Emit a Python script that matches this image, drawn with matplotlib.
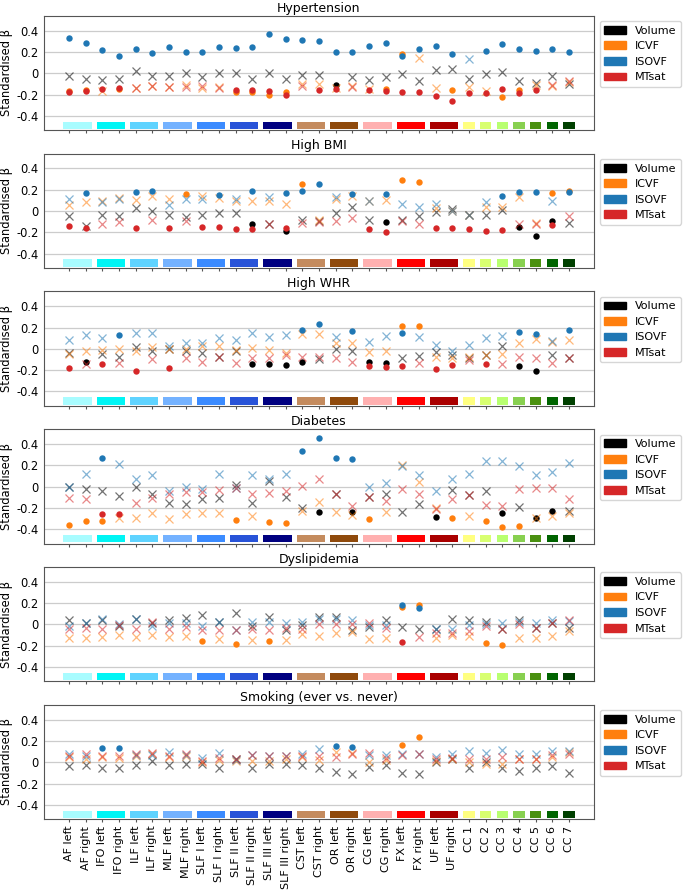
import numpy as np
import matplotlib
matplotlib.use('Agg')
import matplotlib.pyplot as plt
from matplotlib.patches import Patch

tracts = ['AF left', 'AF right', 'IFO left', 'IFO right', 'ILF left', 'ILF right',
          'MLF left', 'MLF right', 'SLF I left', 'SLF I right', 'SLF II left',
          'SLF II right', 'SLF III left', 'SLF III right', 'CST left', 'CST right',
          'OR left', 'OR right', 'CG left', 'CG right', 'FX left', 'FX right',
          'UF left', 'UF right', 'CC 1', 'CC 2', 'CC 3', 'CC 4', 'CC 5', 'CC 6', 'CC 7']

# colour strip under each tract (bilateral tracts share one strip)
group_first = [0, 2, 4, 6, 8, 10, 12, 14, 16, 18, 20, 22, 24, 25, 26, 27, 28, 29, 30]
group_last = [1, 3, 5, 7, 9, 11, 13, 15, 17, 19, 21, 23, 24, 25, 26, 27, 28, 29, 30]
group_colors = ['#a8fcff', '#00f5f5', '#5fd3ff', '#74b2ff', '#3b8bff', '#2853d8', '#000080',
                '#c48b5e', '#8f4a0c', '#ffb0b0', '#ff0000', '#aa0000',
                '#ffff80', '#d8ff70', '#b8ff70', '#88d050', '#4a9010', '#006400', '#004000']

metrics = ['Volume', 'ICVF', 'ISOVF', 'MTsat']
metric_colors = ['black', '#ff7f0e', '#1f77b4', '#d62728']

titles = ['Hypertension', 'High BMI', 'High WHR', 'Diabetes', 'Dyslipidemia',
          'Smoking (ever vs. never)']

# ---- Hypertension
hyp_volume = [-0.03, -0.05, -0.06, -0.05, 0.02, -0.03, -0.03, 0.0, -0.04, 0.0, 0.0, -0.05, 0.0, -0.05, -0.02, -0.02,
              -0.11, -0.04, -0.06, -0.04, -0.01, -0.07, 0.03, 0.04, -0.05, -0.01, 0.01, -0.07, -0.09, -0.03, -0.10]
hyp_icvf = [-0.17, -0.16, -0.17, -0.15, -0.14, -0.12, -0.13, -0.11, -0.14, -0.13, -0.18, -0.18, -0.20, -0.18, -0.10, -0.10,
            -0.14, -0.12, -0.15, -0.15, 0.18, 0.14, -0.14, -0.16, -0.13, -0.17, -0.22, -0.16, -0.11, -0.12, -0.08]
hyp_isovf = [0.33, 0.28, 0.22, 0.16, 0.23, 0.19, 0.25, 0.20, 0.20, 0.25, 0.24, 0.25, 0.37, 0.32, 0.31, 0.30,
             0.20, 0.20, 0.26, 0.28, 0.16, 0.23, 0.26, 0.18, 0.13, 0.21, 0.27, 0.23, 0.21, 0.23, 0.20]
hyp_mtsat = [-0.18, -0.17, -0.15, -0.14, -0.14, -0.12, -0.13, -0.13, -0.12, -0.14, -0.16, -0.16, -0.17, -0.20, -0.12, -0.16,
             -0.15, -0.13, -0.16, -0.17, -0.18, -0.18, -0.21, -0.26, -0.19, -0.19, -0.15, -0.19, -0.16, -0.11, -0.07]
hyp_sig = [[16],
           [0, 1, 3, 10, 11, 12, 13, 19, 20, 23, 26, 27],
           [i for i in range(31) if i != 24],
           [0, 1, 2, 3, 10, 11, 12, 13, 15, 16, 18, 19, 20, 21, 22, 23, 24, 25, 26, 27, 28]]

# ---- High BMI
bmi_volume = [-0.05, -0.14, -0.04, -0.05, 0.03, 0.0, -0.04, -0.06, -0.04, -0.02, -0.02, -0.12, -0.12, -0.19, -0.08, -0.09,
              -0.02, 0.04, -0.08, -0.10, -0.08, -0.05, -0.01, 0.02, -0.04, -0.04, 0.01, -0.15, -0.23, -0.09, -0.11]
bmi_icvf = [0.06, 0.08, 0.09, 0.12, 0.10, 0.14, 0.11, 0.16, 0.14, 0.12, 0.09, 0.09, 0.09, 0.07, 0.25, -0.08,
            0.11, 0.14, 0.09, 0.10, 0.29, 0.275, 0.025, 0.0, -0.04, 0.04, 0.035, 0.13, -0.11, 0.17, 0.19]
bmi_isovf = [0.11, 0.17, 0.08, 0.11, 0.175, 0.19, 0.06, 0.11, 0.11, 0.15, 0.11, 0.19, 0.13, 0.17, 0.19, 0.25,
             0.13, 0.16, 0.09, 0.16, 0.07, 0.035, 0.07, 0.0, -0.04, 0.08, 0.14, 0.18, 0.175, 0.09, 0.18]
bmi_mtsat = [-0.14, -0.16, -0.12, -0.10, -0.16, -0.08, -0.16, -0.09, -0.15, -0.15, -0.17, -0.17, -0.12, -0.16, -0.11, -0.10,
             -0.09, -0.07, -0.17, -0.20, -0.09, -0.12, -0.16, -0.16, -0.17, -0.19, -0.18, -0.12, -0.12, -0.13, -0.05]
bmi_sig = [[11, 13, 19, 27, 28, 29],
           [7, 14, 20, 21, 29, 30],
           [1, 4, 5, 9, 11, 13, 14, 15, 17, 19, 26, 27, 28, 30],
           [0, 1, 4, 6, 8, 9, 10, 11, 13, 18, 19, 22, 23, 24, 25, 26, 29]]

# ---- High WHR
whr_volume = [-0.04, -0.12, -0.05, -0.08, 0.015, -0.02, 0.0, -0.02, -0.04, -0.08, -0.02, -0.14, -0.14, -0.15, -0.12, -0.10,
              0.0, -0.02, -0.12, -0.135, -0.085, -0.07, -0.03, -0.06, -0.085, -0.055, 0.03, -0.165, -0.205, -0.055, -0.09]
whr_icvf = [-0.05, -0.02, -0.01, 0.0, -0.02, 0.02, 0.0, 0.0, 0.03, 0.025, -0.01, 0.01, -0.015, -0.04, 0.14, 0.14,
            0.05, 0.05, -0.03, -0.02, 0.21, 0.215, -0.075, -0.09, -0.075, -0.055, -0.05, 0.05, 0.09, 0.06, 0.08]
whr_isovf = [0.08, 0.13, 0.10, 0.13, 0.15, 0.15, 0.03, 0.05, 0.055, 0.10, 0.08, 0.15, 0.11, 0.13, 0.18, 0.23,
             0.11, 0.17, 0.06, 0.125, 0.15, 0.115, 0.04, -0.02, 0.035, 0.10, 0.12, 0.16, 0.14, 0.07, 0.18]
whr_mtsat = [-0.18, -0.14, -0.14, -0.13, -0.21, -0.10, -0.18, -0.09, -0.12, -0.08, -0.13, -0.09, -0.09, -0.06, -0.075, -0.075,
             -0.09, -0.12, -0.16, -0.17, -0.165, -0.13, -0.185, -0.15, -0.105, -0.145, -0.14, -0.075, -0.09, -0.13, -0.09]
whr_sig = [[1, 11, 12, 13, 14, 18, 19, 27, 28],
           [20, 21],
           [3, 14, 15, 17, 20, 27, 28, 30],
           [0, 2, 4, 6, 18, 19, 20, 22, 23, 25]]

# ---- Diabetes
dia_volume = [0.0, -0.02, -0.045, -0.085, 0.0, -0.07, -0.15, -0.16, -0.12, -0.11, 0.015, -0.15, 0.05, -0.10, -0.20, -0.24,
              -0.07, -0.24, -0.10, -0.065, -0.235, -0.16, -0.285, -0.035, -0.075, -0.045, -0.245, -0.195, -0.29, -0.23, -0.225]
dia_icvf = [-0.36, -0.325, -0.32, -0.29, -0.29, -0.245, -0.30, -0.255, -0.245, -0.245, -0.31, -0.28, -0.33, -0.34, -0.225, -0.145,
            -0.235, -0.27, -0.30, -0.235, 0.20, 0.04, -0.20, -0.295, -0.275, -0.32, -0.38, -0.37, -0.295, -0.28, -0.25]
dia_isovf = [0.0, 0.12, 0.27, 0.21, 0.07, 0.105, -0.045, 0.0, -0.025, 0.12, -0.01, 0.105, 0.075, 0.12, 0.33, 0.46,
             0.27, 0.26, 0.0, 0.035, 0.19, 0.105, -0.04, 0.07, 0.115, 0.245, 0.245, 0.19, 0.105, 0.135, 0.22]
dia_mtsat = [-0.11, -0.12, -0.255, -0.255, -0.15, -0.11, -0.065, -0.05, -0.05, -0.035, -0.01, -0.07, -0.06, -0.045, 0.005, 0.07,
             -0.07, -0.185, -0.10, -0.135, -0.025, -0.065, -0.21, -0.115, -0.075, -0.17, -0.18, -0.02, -0.01, -0.01, -0.12]
dia_sig = [[15, 17, 22, 26, 28, 29],
           [0, 1, 2, 10, 12, 13, 18, 23, 25, 26, 27],
           [2, 14, 15, 16, 17],
           [2, 3]]

# ---- Dyslipidemia
dys_volume = [0.04, 0.015, 0.04, -0.015, 0.055, 0.015, 0.04, 0.06, 0.085, 0.02, 0.11, -0.015, 0.065, -0.055, -0.01, 0.065,
              0.07, -0.055, -0.02, 0.04, -0.02, -0.04, -0.04, 0.055, 0.04, 0.02, -0.04, 0.04, -0.03, 0.015, -0.03]
dys_icvf = [-0.13, -0.13, -0.115, -0.10, -0.115, -0.095, -0.12, -0.11, -0.155, -0.14, -0.18, -0.15, -0.155, -0.15, -0.09, -0.11,
            -0.085, -0.07, -0.14, -0.125, 0.16, 0.18, -0.13, -0.095, -0.11, -0.175, -0.19, -0.13, -0.125, -0.11, -0.065]
dys_isovf = [-0.015, 0.015, 0.055, 0.005, 0.055, -0.015, 0.015, 0.01, -0.015, 0.02, -0.055, 0.025, 0.025, 0.01, 0.025, 0.055,
             0.055, 0.04, -0.005, -0.005, 0.18, 0.15, -0.045, -0.045, -0.005, 0.0, 0.015, 0.02, 0.015, 0.04, 0.03]
dys_mtsat = [-0.045, -0.03, -0.04, -0.01, -0.04, 0.025, -0.045, -0.02, -0.055, -0.055, -0.055, -0.04, -0.055, -0.03, -0.04, 0.0,
             0.0, 0.0, 0.015, -0.03, -0.165, -0.115, -0.08, -0.085, -0.065, -0.015, -0.045, 0.0, -0.03, 0.01, 0.045]
dys_sig = [[],
           [8, 10, 12, 20, 21, 25, 26],
           [20, 21],
           [20]]

# ---- Smoking
smk_volume = [-0.04, -0.025, -0.05, -0.055, -0.03, 0.015, -0.03, -0.015, -0.02, -0.055, 0.03, -0.05, -0.015, -0.02, -0.03, -0.055,
              -0.09, -0.115, -0.045, -0.025, -0.10, -0.115, 0.0, 0.03, -0.05, 0.005, -0.05, -0.08, -0.055, -0.04, -0.10]
smk_icvf = [0.045, 0.03, 0.045, 0.04, 0.06, 0.08, 0.045, 0.06, 0.005, 0.02, 0.015, 0.01, 0.015, 0.03, 0.045, 0.02,
            0.10, 0.085, 0.005, 0.02, 0.16, 0.235, 0.015, 0.03, 0.0, -0.015, -0.015, 0.03, 0.03, 0.045, 0.095]
smk_isovf = [0.075, 0.06, 0.13, 0.13, 0.07, 0.07, 0.10, 0.065, 0.04, 0.085, 0.02, 0.07, 0.06, 0.06, 0.08, 0.12,
             0.155, 0.14, 0.065, 0.065, 0.075, 0.075, 0.045, 0.075, 0.11, 0.085, 0.115, 0.075, 0.075, 0.105, 0.11]
smk_mtsat = [0.06, 0.075, 0.06, 0.06, 0.075, 0.085, 0.06, 0.075, 0.015, 0.04, 0.03, 0.065, 0.055, 0.06, 0.06, 0.06,
             0.045, 0.08, 0.085, 0.04, 0.065, 0.08, 0.03, 0.04, 0.03, 0.03, 0.045, 0.03, 0.03, 0.065, 0.075]
smk_sig = [[],
           [20, 21],
           [2, 3, 16, 17],
           []]

panels = [
    ([hyp_volume, hyp_icvf, hyp_isovf, hyp_mtsat], hyp_sig),
    ([bmi_volume, bmi_icvf, bmi_isovf, bmi_mtsat], bmi_sig),
    ([whr_volume, whr_icvf, whr_isovf, whr_mtsat], whr_sig),
    ([dia_volume, dia_icvf, dia_isovf, dia_mtsat], dia_sig),
    ([dys_volume, dys_icvf, dys_isovf, dys_mtsat], dys_sig),
    ([smk_volume, smk_icvf, smk_isovf, smk_mtsat], smk_sig),
]

FS = 8.3
plt.rcParams['font.size'] = FS

fig = plt.figure(figsize=(6.85, 8.91), dpi=100)
W, H = 685.0, 891.0
x = np.arange(len(tracts))

for p, (vals, sig) in enumerate(panels):
    top = 15.7 + 137.8 * p
    ax = fig.add_axes([44 / W, 1 - (top + 114.5) / H, 550 / W, 114.5 / H])
    ax.set_xlim(-1.5, len(tracts) + 0.5)
    ax.set_ylim(-0.535, 0.54)
    ax.set_yticks([-0.4, -0.2, 0, 0.2, 0.4])
    ax.set_yticklabels(['-0.4', '-0.2', '0', '0.2', '0.4'])
    ax.yaxis.grid(True, color='#cccccc', linewidth=0.9)
    ax.set_axisbelow(True)
    for s in ax.spines.values():
        s.set_color('#555555')

    for m in range(4):
        v = np.array(vals[m])
        mask = np.zeros(len(v), dtype=bool)
        mask[sig[m]] = True
        ax.plot(x[~mask], v[~mask], 'x', color=metric_colors[m], alpha=0.55,
                markersize=5.2, markeredgewidth=0.9, zorder=3 + m)
        ax.plot(x[mask], v[mask], 'o', color=metric_colors[m],
                markersize=4.6, markeredgewidth=0, zorder=3 + m)

    # tract colour strip
    first = np.array(group_first)
    last = np.array(group_last)
    ax.bar((first + last) / 2, 0.068, bottom=-0.523, width=last - first + 0.7,
           color=group_colors, edgecolor='none', zorder=2)

    ax.set_xticks(x)
    if p == len(panels) - 1:
        ax.set_xticklabels(tracts, rotation=90, fontsize=8)
    else:
        ax.set_xticklabels([])
    ax.tick_params(axis='x', length=2.5, pad=2.2, color='#555555')
    ax.tick_params(axis='y', length=0, pad=4)
    ax.set_ylabel('Standardised β')
    ax.yaxis.set_label_coords(-0.057, 0.5)
    ax.set_title(titles[p], fontsize=9, pad=3)

    handles = [Patch(facecolor=c, edgecolor=c, label=l) for c, l in zip(metric_colors, metrics)]
    ax.legend(handles=handles, loc='upper left', bbox_to_anchor=(1.0, 1.0), fontsize=8)

fig.savefig('out.png', dpi=100)
